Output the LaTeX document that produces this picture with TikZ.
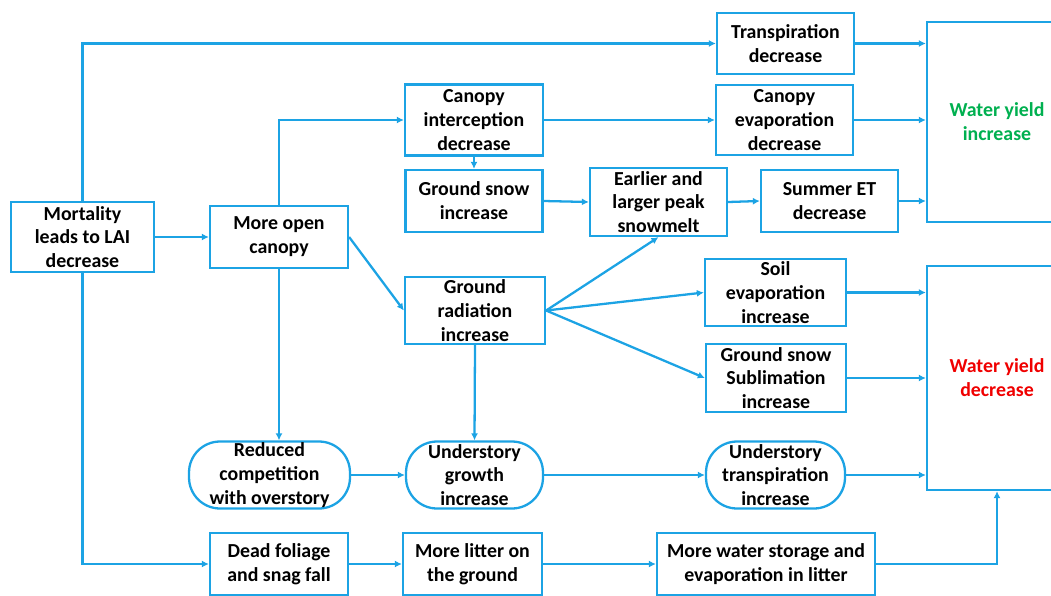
\documentclass[tikz,border=0pt]{standalone}
\usepackage{fontspec}
\setmainfont{Carlito}
\usetikzlibrary{arrows.meta}
\definecolor{myblue}{RGB}{28,163,228}
\definecolor{mygreen}{RGB}{0,176,80}
\definecolor{myred}{RGB}{240,0,0}

\begin{document}
\begin{tikzpicture}[x=0.02cm,y=-0.02cm]
\tikzset{BoxStyle/.style={draw=myblue, line width=1.3pt, fill=white, align=center, inner sep=0pt, font=\fontsize{11.3}{13.6}\selectfont\bfseries}}
\tikzset{RoundStyle/.style={BoxStyle, rounded corners=0.62cm}}
\tikzset{LinkStyle/.style={draw=myblue, line width=1.3pt, -{Latex[length=4pt,width=4pt]}}}
\useasboundingbox (0,0) rectangle (1051,595);
\node[BoxStyle, minimum width=2.86cm, minimum height=1.4cm] (mort) at (82.5,237) {Mortality\\leads to LAI\\decrease};
\node[BoxStyle, minimum width=2.76cm, minimum height=1.24cm] (open) at (279,237) {More open\\canopy};
\node[BoxStyle, minimum width=2.76cm, minimum height=1.42cm] (intercept) at (474,120) {Canopy\\interception\\decrease};
\node[BoxStyle, minimum width=2.74cm, minimum height=1.24cm] (gsnow) at (474,201) {Ground snow\\increase};
\node[BoxStyle, minimum width=2.74cm, minimum height=1.36cm] (snowmelt) at (658.5,202) {Earlier and\\larger peak\\snowmelt};
\node[BoxStyle, minimum width=2.74cm, minimum height=1.24cm] (summer) at (829.5,201) {Summer ET\\decrease};
\node[BoxStyle, minimum width=2.74cm, minimum height=1.22cm] (transp) at (785.5,43.5) {Transpiration\\decrease};
\node[BoxStyle, minimum width=2.74cm, minimum height=1.4cm] (canevap) at (784.5,120) {Canopy\\evaporation\\decrease};
\node[BoxStyle, minimum width=2.8cm, minimum height=4cm, text=mygreen] (wyi) at (997,122) {Water yield\\increase};
\node[BoxStyle, minimum width=2.8cm, minimum height=1.34cm] (rad) at (475,310.5) {Ground\\radiation\\increase};
\node[BoxStyle, minimum width=2.82cm, minimum height=1.34cm] (soil) at (775.5,292.5) {Soil\\evaporation\\increase};
\node[BoxStyle, minimum width=2.8cm, minimum height=1.36cm] (sublim) at (776,378) {Ground snow\\Sublimation\\increase};
\node[BoxStyle, minimum width=2.8cm, minimum height=4.48cm, text=myred] (wyd) at (997,378) {Water yield\\decrease};
\node[RoundStyle, minimum width=3.22cm, minimum height=1.34cm] (reduced) at (269.5,475) {Reduced\\competition\\with overstory};
\node[RoundStyle, minimum width=2.74cm, minimum height=1.34cm] (ugrowth) at (474.5,475) {Understory\\growth\\increase};
\node[RoundStyle, minimum width=2.78cm, minimum height=1.34cm] (utransp) at (775.5,475) {Understory\\transpiration\\increase};
\node[BoxStyle, minimum width=2.76cm, minimum height=1.24cm] (dead) at (279,564) {Dead foliage\\and snag fall};
\node[BoxStyle, minimum width=2.78cm, minimum height=1.24cm] (litter) at (472.5,564) {More litter on\\the ground};
\node[BoxStyle, minimum width=4.36cm, minimum height=1.24cm] (storage) at (766,564) {More water storage and\\evaporation in litter};
\draw[LinkStyle] (mort.north) |- (transp.west);
\draw[LinkStyle] (mort.east) -- (open.west);
\draw[LinkStyle] (mort.south) |- (dead.west);
\draw[LinkStyle] (open.north) |- (intercept.west);
\draw[LinkStyle] (open.south) -- (open.south |- reduced.north);
\draw[LinkStyle] (open.east) -- (rad.west);
\draw[LinkStyle] (intercept.south) -- (gsnow.north);
\draw[LinkStyle] (intercept.east) -- (canevap.west);
\draw[LinkStyle] (gsnow.east) -- (snowmelt.west);
\draw[LinkStyle] (snowmelt.east) -- (summer.west);
\draw[LinkStyle] (transp.east) -- (transp.east -| wyi.west);
\draw[LinkStyle] (canevap.east) -- (canevap.east -| wyi.west);
\draw[LinkStyle] (summer.east) -- (summer.east -| wyi.west);
\draw[LinkStyle] (rad.east) -- (snowmelt.south);
\draw[LinkStyle] (rad.east) -- (soil.west);
\draw[LinkStyle] (rad.east) -- (sublim.west);
\draw[LinkStyle] (rad.south) -- (ugrowth.north);
\draw[LinkStyle] (reduced.east) -- (ugrowth.west);
\draw[LinkStyle] (ugrowth.east) -- (utransp.west);
\draw[LinkStyle] (soil.east) -- (soil.east -| wyd.west);
\draw[LinkStyle] (sublim.east) -- (sublim.east -| wyd.west);
\draw[LinkStyle] (utransp.east) -- (utransp.east -| wyd.west);
\draw[LinkStyle] (dead.east) -- (litter.west);
\draw[LinkStyle] (litter.east) -- (storage.west);
\draw[LinkStyle] (storage.east) -| (wyd.south);
\end{tikzpicture}
\end{document}
